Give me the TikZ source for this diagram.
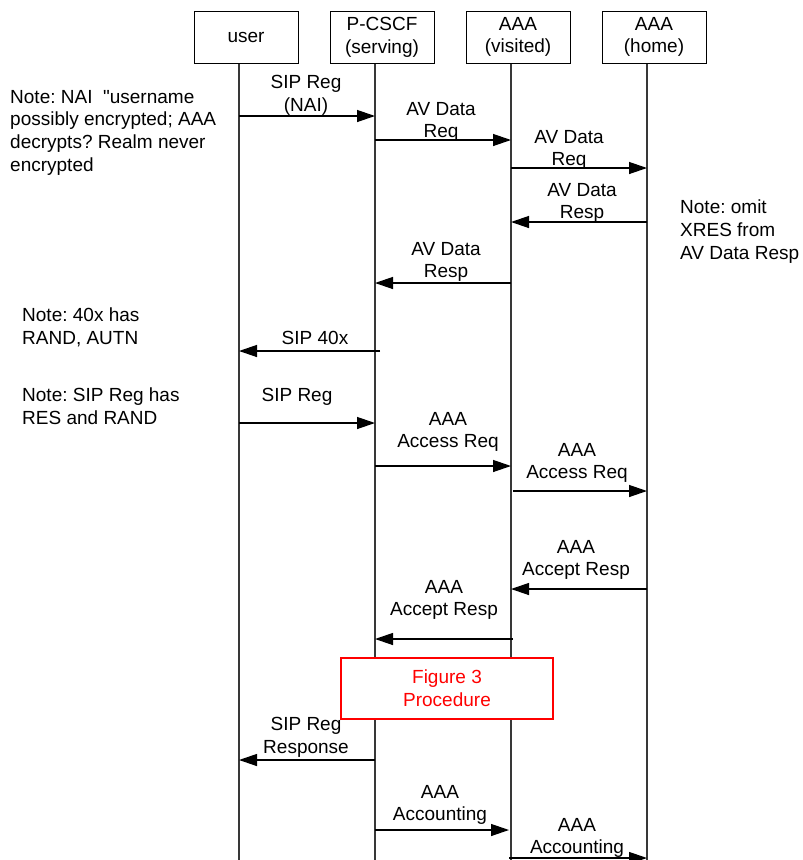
\documentclass[tikz,border=0pt]{standalone}
\usepackage{fontspec}
\setmainfont{Liberation Sans}[Ligatures=TeXOff]
\usetikzlibrary{arrows.meta,calc}
\frenchspacing
\begin{document}
\begin{tikzpicture}[x=1pt,y=-1pt,
  every node/.style={font=\fontsize{19}{22.7}\selectfont},
  actor/.style={draw=black, line width=1pt, minimum width=104pt, minimum height=52pt, align=center, inner sep=0pt, fill=white},
  life/.style={draw=black!78, line width=1.3pt},
  msg/.style={draw=black, line width=1.3pt, -{Triangle[length=18pt,width=12pt]}},
  lbl/.style={anchor=north, align=center, inner sep=0pt},
  note/.style={anchor=north west, align=left, inner sep=0pt},
  proc/.style={draw=red, line width=2pt, fill=white, text=red, minimum width=212pt, minimum height=61pt, align=center, inner sep=0pt}]
\useasboundingbox[fill=white] (0,0) rectangle (803,860);

% lifeline x positions
\coordinate (LU) at (239,0);
\coordinate (LP) at (375,0);
\coordinate (LV) at (511,0);
\coordinate (LH) at (647,0);
\coordinate (bot) at (0,860);

% actors
\node[actor] (user) at (246,37) {user};
\node[actor] (pcscf) at (382,37) {P-CSCF\\(serving)};
\node[actor] (visited) at (518,37) {AAA\\(visited)};
\node[actor] (home) at (654,37) {AAA\\(home)};

% lifelines
\draw[life] (user.south -| LU) -- (LU |- bot);
\draw[life] (pcscf.south -| LP) -- (LP |- bot);
\draw[life] (visited.south -| LV) -- (LV |- bot);
\draw[life] (home.south -| LH) -- (LH |- bot);

% message rows
\coordinate (m1) at (0,116);
\coordinate (m2) at (0,140);
\coordinate (m3) at (0,168);
\coordinate (m4) at (0,222);
\coordinate (m5) at (0,283);
\coordinate (m6) at (0,351);
\coordinate (m7) at (0,423);
\coordinate (m8) at (0,466);
\coordinate (m9) at (0,491);
\coordinate (m10) at (0,589);
\coordinate (m11) at (0,639);
\coordinate (m13) at (0,760);
\coordinate (m14) at (0,830);
\coordinate (m15) at (0,858);

\draw[msg] (LU |- m1) -- (LP |- m1);
\draw[msg] (LP |- m2) -- (LV |- m2);
\draw[msg] (LV |- m3) -- (LH |- m3);
\draw[msg] (LH |- m4) -- (LV |- m4);
\draw[msg] (LV |- m5) -- (LP |- m5);
\draw[msg] ($(LP |- m6)+(5,0)$) -- (LU |- m6);
\draw[msg] (LU |- m7) -- (LP |- m7);
\draw[msg] (LP |- m8) -- (LV |- m8);
\draw[msg] ($(LV |- m9)+(2,0)$) -- (LH |- m9);
\draw[msg] (LH |- m10) -- (LV |- m10);
\draw[msg] ($(LV |- m11)+(2,0)$) -- (LP |- m11);
\draw[msg] (LP |- m13) -- (LU |- m13);
\draw[msg] (LP |- m14) -- ($(LV |- m14)+(-2,0)$);
\draw[msg] ($(LV |- m15)+(-2,0)$) -- (LH |- m15);

% message labels
\node[lbl] (l1) at (306,75) {SIP Reg\\(NAI)};
\node[lbl] (l2) at (441,102) {AV Data\\Req};
\node[lbl] (l3) at (569,130) {AV Data\\Req};
\node[lbl] (l4) at (582,183) {AV Data\\Resp};
\node[lbl] (l5) at (446,242) {AV Data\\Resp};
\node[lbl] (l6) at (315,331) {SIP 40x};
\node[lbl] (l7) at (297,388) {SIP Reg};
\node[lbl] (l8) at (448,412) {AAA\\Access Req};
\node[lbl] (l9) at (577,443) {AAA\\Access Req};
\node[lbl] (l10) at (576,540) {AAA\\Accept Resp};
\node[lbl] (l11) at (444,580) {AAA\\Accept Resp};
\node[lbl] (l13) at (306,717) {SIP Reg\\Response};
\node[lbl] (l14) at (440,785) {AAA\\Accounting};
\node[lbl] (l15) at (577,818) {AAA\\Accounting};

% procedure box
\node[proc] (fig3) at (447,688.5) {Figure 3\\Procedure};

% notes
\node[note] (n1) at (10,90) {Note: NAI~~"username\\possibly encrypted; AAA\\decrypts? Realm never\\encrypted};
\node[note] (n2) at (680,200) {Note: omit\\XRES from\\AV Data Resp};
\node[note] (n3) at (22,308) {Note: 40x has\\RAND, AUTN};
\node[note] (n4) at (22,388) {Note: SIP Reg has\\RES and RAND};
\end{tikzpicture}
\end{document}
